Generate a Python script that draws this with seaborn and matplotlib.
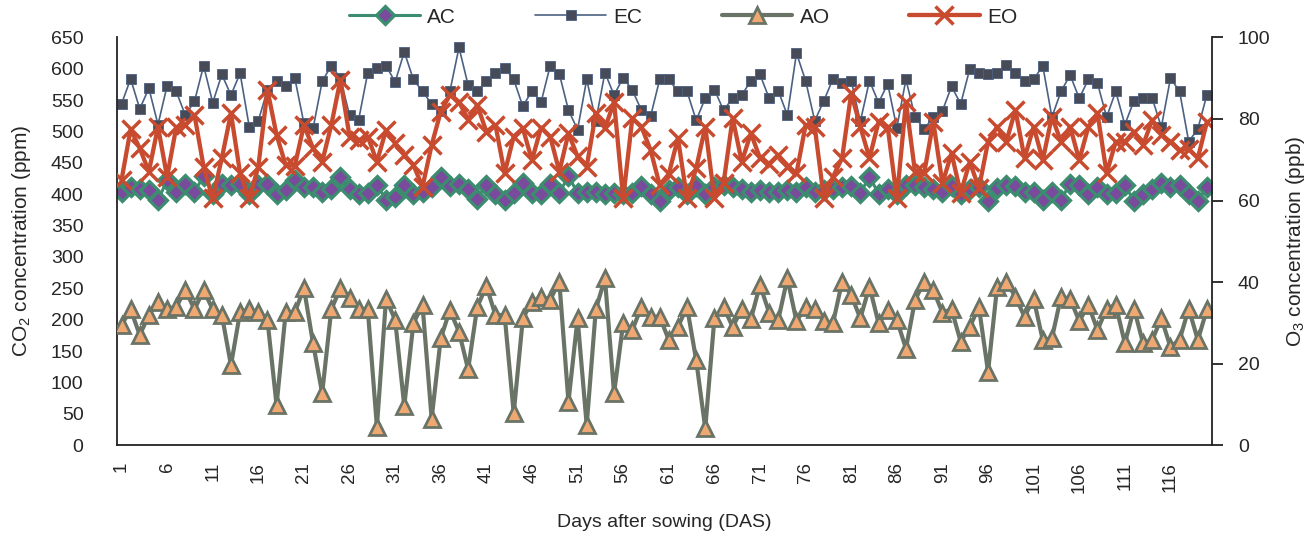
import matplotlib
matplotlib.use("Agg")
import matplotlib.pyplot as plt
import seaborn as sns
import pandas as pd

days = list(range(1, 121))
tick_days = list(range(1, 120, 5))

AC = [404, 412, 409, 407, 391, 422, 404, 416, 404, 429,
      401, 416, 415, 416, 401, 415, 417, 401, 406, 423,
      412, 412, 404, 408, 428, 408, 401, 402, 415, 391,
      396, 415, 401, 404, 412, 428, 413, 417, 408, 393,
      415, 401, 391, 402, 418, 402, 401, 416, 402, 429,
      402, 404, 404, 401, 402, 401, 402, 413, 401, 390,
      406, 412, 401, 413, 401, 412, 415, 412, 408, 404,
      406, 404, 404, 406, 404, 412, 404, 406, 408, 412,
      413, 402, 428, 401, 408, 401, 415, 415, 412, 408,
      404, 413, 401, 408, 412, 389, 410, 415, 413, 404,
      404, 391, 404, 391, 417, 415, 401, 412, 401, 402,
      415, 389, 401, 408, 418, 412, 415, 401, 389, 412]

EC = [544, 584, 536, 569, 511, 573, 564, 526, 548, 605,
      546, 591, 558, 593, 508, 517, 567, 581, 572, 585,
      513, 505, 580, 605, 585, 526, 519, 594, 602, 605,
      579, 627, 583, 564, 544, 532, 564, 634, 574, 564,
      581, 594, 602, 583, 540, 565, 547, 605, 592, 534,
      503, 583, 517, 594, 558, 586, 566, 534, 524, 583,
      583, 564, 564, 518, 553, 567, 534, 553, 558, 581,
      591, 553, 565, 526, 625, 581, 517, 549, 584, 577,
      581, 516, 581, 546, 576, 506, 583, 523, 504, 523,
      533, 572, 544, 600, 593, 592, 593, 606, 594, 581,
      583, 605, 523, 564, 590, 553, 583, 577, 523, 564,
      511, 549, 553, 553, 507, 585, 564, 484, 504, 559]

AO = [29.4, 33.3, 27.0, 31.9, 35.2, 33.5, 33.9, 38.0, 33.3, 38.0,
      33.3, 31.9, 19.6, 32.6, 33.3, 32.6, 30.7, 9.8, 32.6, 32.6,
      38.5, 25.0, 12.7, 33.3, 38.5, 36.0, 33.3, 33.3, 4.5, 35.9,
      30.7, 9.6, 29.9, 34.4, 6.5, 26.2, 33.1, 27.8, 18.6, 33.9,
      39.0, 31.9, 31.9, 7.8, 31.1, 35.2, 36.4, 35.7, 40.1, 10.6,
      31.1, 4.9, 33.3, 40.9, 12.7, 29.9, 28.2, 33.9, 31.5, 31.5,
      25.8, 29.0, 33.9, 20.9, 4.1, 31.1, 33.9, 29.0, 33.3, 30.9,
      39.3, 32.5, 30.7, 40.9, 30.4, 33.9, 33.3, 30.4, 29.9, 40.1,
      36.8, 31.1, 38.9, 29.9, 33.1, 30.7, 23.7, 35.6, 40.1, 38.0,
      32.5, 33.3, 25.4, 29.0, 33.9, 18.0, 38.9, 40.1, 36.4, 31.5,
      35.9, 25.8, 26.2, 36.4, 35.9, 30.4, 34.4, 28.2, 33.5, 34.4,
      25.0, 33.5, 25.0, 25.8, 31.1, 24.1, 25.8, 33.5, 25.8, 33.3]

EO = [65.0, 77.5, 72.8, 67.1, 78.1, 65.8, 78.0, 78.5, 81.0, 68.3,
      60.5, 70.4, 81.4, 66.7, 60.5, 68.3, 87.1, 76.1, 68.7, 68.5,
      78.5, 72.8, 69.5, 78.5, 89.6, 75.7, 74.8, 75.7, 69.5, 77.3,
      74.0, 71.2, 68.7, 63.4, 73.6, 81.8, 85.9, 84.2, 79.8, 83.4,
      76.9, 78.5, 66.7, 75.7, 77.7, 69.9, 77.9, 75.7, 67.1, 76.5,
      70.8, 68.3, 81.4, 77.7, 84.2, 60.5, 80.2, 78.1, 72.4, 63.8,
      66.5, 75.3, 60.5, 67.9, 78.1, 60.5, 64.2, 80.2, 69.5, 76.5,
      70.4, 69.0, 71.2, 68.3, 66.7, 78.5, 78.1, 60.5, 65.8, 70.4,
      86.3, 78.1, 70.4, 79.3, 78.1, 60.5, 84.2, 66.9, 66.7, 79.3,
      64.2, 71.6, 61.8, 69.5, 63.0, 74.4, 78.1, 74.4, 82.2, 70.4,
      78.1, 69.9, 80.6, 74.4, 78.1, 69.9, 78.1, 81.4, 66.7, 74.4,
      74.4, 76.9, 73.6, 79.8, 76.1, 74.4, 72.4, 72.6, 70.4, 79.3]

sns.set_style("white")
plt.rcParams['font.family'] = ['Liberation Sans', 'DejaVu Sans']
plt.rcParams['mathtext.fontset'] = 'custom'
plt.rcParams['mathtext.rm'] = 'Liberation Sans'
plt.rcParams['mathtext.it'] = 'Liberation Sans:italic'
plt.rcParams['mathtext.bf'] = 'Liberation Sans:bold'

df = pd.DataFrame({"day": days, "AC": AC, "EC": EC, "AO": AO, "EO": EO})

fig = plt.figure(figsize=(13.14, 5.35), dpi=100)
ax = fig.add_axes([0.089, 0.168, 0.833, 0.762])
ax2 = ax.twinx()

c_ac = "#3c8c6f"; c_ac_fill = "#7a4a9c"
c_ec = "#4b6183"; c_ec_fill = "#464b57"
c_ao = "#6a7466"; c_ao_fill = "#f0a873"
c_eo = "#c84b2f"

sns.lineplot(data=df, x="day", y="AC", ax=ax, color=c_ac, linewidth=2.2,
             marker="D", markersize=9.5, markerfacecolor=c_ac_fill,
             markeredgecolor=c_ac, markeredgewidth=2.3, label="AC", estimator=None)
sns.lineplot(data=df, x="day", y="EC", ax=ax, color=c_ec, linewidth=1.2,
             marker="s", markersize=7.5, markerfacecolor=c_ec_fill,
             markeredgecolor=c_ec, markeredgewidth=0.6, label="EC", estimator=None)
sns.lineplot(data=df, x="day", y="AO", ax=ax2, color=c_ao, linewidth=3.0,
             marker="^", markersize=11.5, markerfacecolor=c_ao_fill,
             markeredgecolor=c_ao, markeredgewidth=2.0, label="AO", estimator=None)
sns.lineplot(data=df, x="day", y="EO", ax=ax2, color=c_eo, linewidth=3.1,
             marker="x", markersize=13.5, markerfacecolor=c_eo,
             markeredgecolor=c_eo, markeredgewidth=2.5, label="EO", estimator=None)

h1, l1 = ax.get_legend_handles_labels()
h2, l2 = ax2.get_legend_handles_labels()
for a in (ax, ax2):
    if a.get_legend() is not None:
        a.get_legend().remove()

ax.set_xlim(0.5, 120.5)
ax.set_ylim(0, 650)
ax2.set_ylim(0, 100)
ax.set_yticks(range(0, 651, 50))
ax2.set_yticks(range(0, 101, 20))
ax.set_xticks(tick_days)
ax.set_xticklabels([str(d) for d in tick_days], rotation=90)

ax.tick_params(axis='x', length=0, pad=12, labelsize=13.5)
ax.tick_params(axis='y', length=0, pad=24, labelsize=14)
ax2.tick_params(axis='y', direction='out', length=8, width=1.3, pad=11,
                labelsize=14, color="#222222")

for a in (ax, ax2):
    a.spines['top'].set_visible(False)
ax2.spines['left'].set_visible(False)
ax2.spines['bottom'].set_visible(False)
ax.spines['right'].set_visible(False)
for s in ('left', 'bottom'):
    ax.spines[s].set_color("#222222"); ax.spines[s].set_linewidth(1.3)
ax2.spines['right'].set_color("#222222"); ax2.spines['right'].set_linewidth(1.3)

ax.set_xlabel("Days after sowing (DAS)", fontsize=14, labelpad=15)
ax.set_ylabel(r"CO$_\mathrm{2}$ concentration (ppm)", fontsize=15, labelpad=13)
ax2.set_ylabel(r"O$_\mathrm{3}$ concentration (ppb)", fontsize=15, labelpad=10)

fig.legend(h1 + h2, l1 + l2, loc='center', bbox_to_anchor=(0.52, 0.968),
           ncol=4, frameon=False, fontsize=15, handlelength=3.4,
           handletextpad=0.35, columnspacing=3.8, numpoints=1)

fig.savefig("out.png", dpi=100)
